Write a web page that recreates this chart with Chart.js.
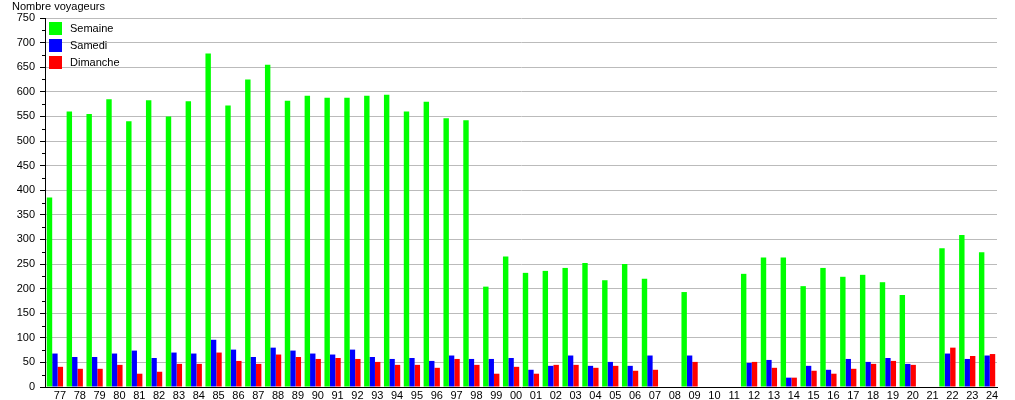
<!DOCTYPE html>
<html>
<head>
<meta charset="utf-8">
<script src="https://cdn.jsdelivr.net/npm/chart.js@4"></script>
<style>
  body { margin: 0; background: #fff; }
</style>
</head>
<body>
<canvas id="trafficChart" width="1015" height="400"></canvas>
<script>
const years = ["77","78","79","80","81","82","83","84","85","86","87","88","89","90","91","92","93","94","95","96","97","98","99",
  "00","01","02","03","04","05","06","07","08","09","10","11","12","13","14","15","16","17","18","19","20","21","22","23","24"];

const semaine = [385,560,555,585,540,583,550,581,678,572,625,655,582,592,588,588,592,594,560,580,546,542,204,
  265,232,236,242,252,217,250,220,null,193,null,null,230,263,263,205,242,224,228,213,187,null,282,309,274];

const samedi = [68,61,61,68,74,59,70,68,96,76,61,80,74,68,66,76,61,57,59,53,64,57,57,
  59,35,43,64,43,51,43,64,null,64,null,null,49,55,19,43,35,57,51,59,47,null,68,57,64];

const dimanche = [41,37,37,45,27,31,47,47,70,53,47,66,61,57,59,57,51,45,45,39,57,45,27,
  41,27,45,45,39,43,33,35,null,51,null,null,51,39,19,33,27,37,47,53,45,null,80,63,67];

const yTitle = "Nombre voyageurs";

Chart.defaults.font.family = "'Liberation Sans', Arial, sans-serif";
Chart.defaults.font.size = 11;
Chart.defaults.color = "#000";

// axis title, minor ticks and the legend box inside the plot
const extras = {
    id: "extras",
    afterDraw(chart) {
        const ctx = chart.ctx;
        const area = chart.chartArea;
        const y = chart.scales.y;

        ctx.save();
        ctx.strokeStyle = "#000";
        ctx.lineWidth = 1;
        for (let v = 25; v < 750; v += 50) {
            const py = Math.round(y.getPixelForValue(v)) + 0.5;
            ctx.beginPath();
            ctx.moveTo(area.left - 3, py);
            ctx.lineTo(area.left, py);
            ctx.stroke();
        }

        ctx.fillStyle = "#000";
        ctx.font = "11px 'Liberation Sans', Arial, sans-serif";
        ctx.textBaseline = "middle";
        ctx.textAlign = "left";
        ctx.fillText(yTitle, 12, 7);

        chart.data.datasets.forEach(function (ds, i) {
            const top = 22 + i * 17;
            ctx.fillStyle = ds.backgroundColor;
            ctx.fillRect(49, top, 13, 13);
            ctx.fillStyle = "#000";
            ctx.fillText(ds.label, 70, top + 7);
        });
        ctx.restore();
    }
};

new Chart(document.getElementById("trafficChart"), {
    type: "bar",
    data: {
        labels: years,
        datasets: [
            { label: "Semaine", data: semaine, backgroundColor: "#00ff00" },
            { label: "Samedi", data: samedi, backgroundColor: "#0000ff" },
            { label: "Dimanche", data: dimanche, backgroundColor: "#ff0000" }
        ]
    },
    options: {
        responsive: false,
        animation: false,
        layout: {
            padding: { top: 18, right: 18, left: 0, bottom: 0 }
        },
        datasets: {
            bar: {
                categoryPercentage: 0.82,
                barPercentage: 1,
                borderWidth: 0
            }
        },
        plugins: {
            legend: { display: false },
            tooltip: { enabled: false }
        },
        scales: {
            x: {
                grid: { display: false, drawTicks: false },
                border: { color: "#000" },
                ticks: {
                    autoSkip: false,
                    maxRotation: 0,
                    labelOffset: 5,
                    padding: 2
                },
                afterFit(scale) { scale.height = 13; }
            },
            y: {
                min: 0,
                max: 750,
                grid: {
                    color: "#bbbbbb",
                    tickColor: "#000",
                    tickLength: 5
                },
                border: { color: "#000" },
                ticks: {
                    stepSize: 50,
                    padding: 5
                },
                afterFit(scale) { scale.width = 45; }
            }
        }
    },
    plugins: [extras]
});
</script>
</body>
</html>
